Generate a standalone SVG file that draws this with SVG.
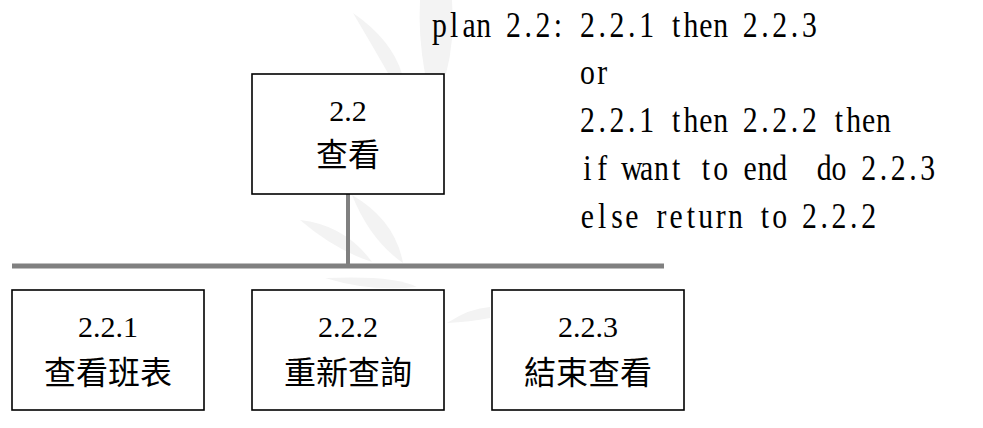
<svg xmlns="http://www.w3.org/2000/svg" width="983" height="428" viewBox="0 0 983 428">
  <style>
    .box { fill: #ffffff; stroke: #000000; stroke-width: 1.6; }
    .num { font-family: "Liberation Serif", "Times New Roman", serif; font-size: 30px; fill: #000; text-anchor: middle; }
    .cjk { font-family: "Noto Sans CJK TC", "Noto Sans CJK SC", sans-serif; font-size: 32px; fill: #000; text-anchor: middle; }
    .plan { font-family: "Liberation Serif", "Times New Roman", serif; font-size: 35px; fill: #000; text-anchor: middle; }
    .conn { stroke: #808080; fill: none; }
    .leaf { fill: #f3f3f3; }
  </style>

  <!-- faint background watermark -->
  <g id="watermark">
    <path class="leaf" d="M353,13 Q392,40 402,74 L392,80 Q372,45 353,13 Z"/>
    <path class="leaf" d="M420,0 L452,0 Q455,40 446,74 L425,74 Q418,35 420,0 Z"/>
    <path class="leaf" d="M300,220 Q345,225 372,262 Q335,250 300,220 Z"/>
    <path class="leaf" d="M352,195 Q395,220 403,263 Q370,240 352,195 Z"/>
    <path class="leaf" d="M325,278 Q395,275 417,287 Q370,292 325,278 Z"/>
    <path class="leaf" d="M447,323 Q470,308 490,307 L490,318 Q470,322 447,323 Z"/>
  </g>

  <g id="connectors">
    <line class="conn" x1="348" y1="194" x2="348" y2="266" stroke-width="4"/>
    <line class="conn" x1="12" y1="266" x2="664" y2="266" stroke-width="5"/>
  </g>

  <g id="node-2-2">
    <rect class="box" x="252" y="74" width="192" height="120"/>
    <text class="num" x="348" y="121">2.2</text>
    <text class="cjk" x="348" y="166">查看</text>
  </g>

  <g id="node-2-2-1">
    <rect class="box" x="12" y="290" width="192" height="120"/>
    <text class="num" x="108" y="337">2.2.1</text>
    <text class="cjk" x="108" y="384">查看班表</text>
  </g>

  <g id="node-2-2-2">
    <rect class="box" x="252" y="290" width="192" height="120"/>
    <text class="num" x="348" y="337">2.2.2</text>
    <text class="cjk" x="348" y="384">重新查詢</text>
  </g>

  <g id="node-2-2-3">
    <rect class="box" x="492" y="290" width="192" height="120"/>
    <text class="num" x="588" y="337">2.2.3</text>
    <text class="cjk" x="588" y="384">結束查看</text>
  </g>

  <g id="plan" transform="scale(0.85 1)">
    <text class="plan" y="37" xml:space="preserve" x="516.94 534.35 551.76 569.18 586.59 604 621.41 638.82 656.24 673.65 691.06 708.47 725.88 743.29 760.71 778.12 795.53 812.94 830.35 847.76 865.18 882.59 900 917.41 934.82 952.24">plan 2.2: 2.2.1 then 2.2.3</text>
    <text class="plan" y="84" xml:space="preserve" x="691.06 708.47">or</text>
    <text class="plan" y="132" xml:space="preserve" x="691.06 708.47 725.88 743.29 760.71 778.12 795.53 812.94 830.35 847.76 865.18 882.59 900 917.41 934.82 952.24 969.65 987.06 1004.47 1021.88 1039.29">2.2.1 then 2.2.2 then</text>
    <text class="plan" y="180" xml:space="preserve" x="691.06 708.47 725.88 743.29 760.71 778.12 795.53 812.94 830.35 847.76 865.18 882.59 900 917.41 934.82 952.24 969.65 987.06 1004.47 1021.88 1039.29 1056.71 1074.12 1091.53">if want to end  do 2.2.3</text>
    <text class="plan" y="228" xml:space="preserve" x="691.06 708.47 725.88 743.29 760.71 778.12 795.53 812.94 830.35 847.76 865.18 882.59 900 917.41 934.82 952.24 969.65 987.06 1004.47 1021.88">else return to 2.2.2</text>
  </g>
</svg>
